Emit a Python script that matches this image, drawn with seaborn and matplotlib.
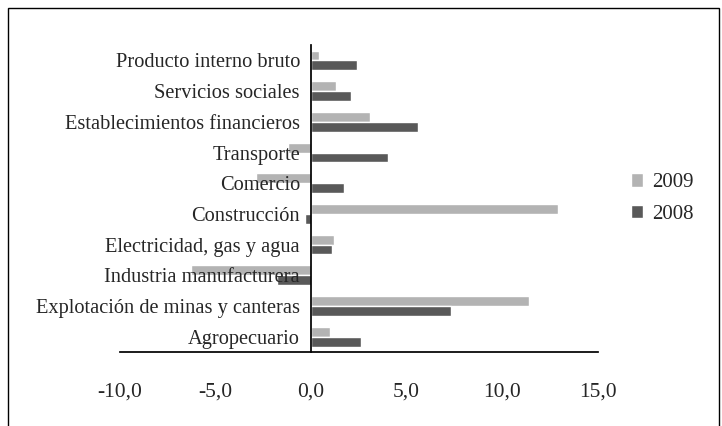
import matplotlib
matplotlib.use("Agg")
import matplotlib.pyplot as plt
import seaborn as sns
import pandas as pd
from matplotlib.patches import Rectangle

sectors = [
    "Producto interno bruto", "Servicios sociales", "Establecimientos financieros",
    "Transporte", "Comercio", "Construcción", "Electricidad, gas y agua",
    "Industria manufacturera", "Explotación de minas y canteras", "Agropecuario",
]
v2009 = [0.4, 1.3, 3.1, -1.2, -2.9, 12.9, 1.2, -6.3, 11.4, 1.0]
v2008 = [2.4, 2.1, 5.6, 4.0, 1.7, -0.3, 1.1, -1.8, 7.3, 2.6]

df = pd.DataFrame({
    "sector": sectors * 2,
    "valor": v2009 + v2008,
    "anio": ["2009"] * len(sectors) + ["2008"] * len(sectors),
})

sns.set_theme(style="white")
plt.rcParams["font.family"] = ["Liberation Serif", "DejaVu Serif"]

fig = plt.figure(figsize=(7.22, 4.26), dpi=100)
ax = fig.add_axes([0.166, 0.174, 0.662, 0.72])
sns.barplot(data=df, y="sector", x="valor", hue="anio", order=sectors,
            hue_order=["2009", "2008"], palette=["#b3b3b3", "#595959"],
            orient="h", width=0.65, ax=ax)

ax.set_xlim(-10, 15)
ax.set_xticks([-10, -5, 0, 5, 10, 15])
ax.set_xticklabels(["-10,0", "-5,0", "0,0", "5,0", "10,0", "15,0"])
ax.tick_params(axis="x", length=0, pad=22, labelsize=15.5)
ax.tick_params(axis="y", length=0, pad=8, labelsize=14.7)
ax.set_xlabel("")
ax.set_ylabel("")
for s in ["top", "right"]:
    ax.spines[s].set_visible(False)
ax.spines["left"].set_position(("data", 0))
ax.spines["left"].set_color("black")
ax.spines["bottom"].set_color("black")
ax.spines["left"].set_zorder(5)
ax.yaxis.set_zorder(6)

ax.legend(loc="center left", bbox_to_anchor=(1.03, 0.5), frameon=False,
          fontsize=15, handlelength=0.6, handleheight=0.6, labelspacing=0.6,
          handletextpad=0.4)

fig.patches.append(Rectangle((8 / 722, -0.1), 711 / 722, 1.1 - 8 / 426,
                             transform=fig.transFigure, fill=False,
                             edgecolor="black", lw=1))

fig.savefig("out.png", dpi=100)
